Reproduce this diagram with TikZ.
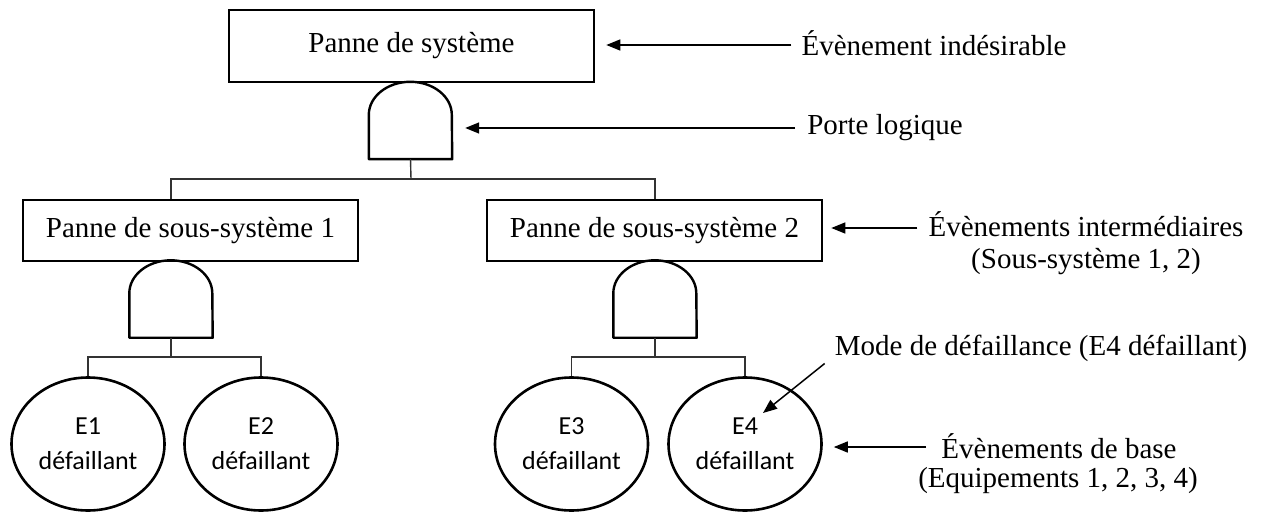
\documentclass[tikz,border=0pt]{standalone}
\usepackage{fontspec}
\setmainfont{Liberation Serif}
\newfontfamily\evsans{Carlito}
\usetikzlibrary{arrows.meta,shapes.geometric}

\begin{document}
\begin{tikzpicture}[x=1pt,y=-1pt,
  eventbox/.style={draw, line width=2.6pt, inner sep=0pt,
    font=\fontsize{29}{34}\selectfont},
  gatebox/.style={inner sep=0pt, minimum width=83pt, minimum height=77pt},
  gateline/.style={line width=2.4pt, line join=round},
  basic/.style={draw, ellipse, line width=2.6pt, minimum width=153pt,
    minimum height=133pt, inner sep=0pt, align=center,
    font=\evsans\fontsize{26}{35}\selectfont},
  tree/.style={line width=1.4pt, draw=black!80},
  note/.style={inner sep=0pt, font=\fontsize{29}{34}\selectfont},
  arr/.style={line width=1.5pt, -{Triangle[length=14pt,width=11pt]}}]

\useasboundingbox (0,0) rectangle (1263,513);

% events
\node[eventbox, minimum width=365pt, minimum height=72pt] (top) at (411.5,46) {Panne de système};
\node[eventbox, minimum width=335pt, minimum height=61pt] (s1) at (190.5,230.5) {Panne de sous-système 1};
\node[eventbox, minimum width=335pt, minimum height=61pt] (s2) at (654.5,230.5) {Panne de sous-système 2};

% AND gates
\node[gatebox] (g0) at (410.5,120.5) {};
\node[gatebox] (g1) at (171,299) {};
\node[gatebox] (g2) at (655,299) {};
\foreach \g in {g0,g1,g2}
  \draw[gateline] (\g.south west) -- ([yshift=-33pt]\g.north west)
    arc[start angle=180, end angle=0, x radius=41.5pt, y radius=33pt]
    -- (\g.south east) -- cycle;

% basic events
\node[basic] (e1) at (88,444) {E1\\défaillant};
\node[basic] (e2) at (261,444) {E2\\défaillant};
\node[basic] (e3) at (571.5,444) {E3\\défaillant};
\node[basic] (e4) at (745,444) {E4\\défaillant};

% tree connections
\coordinate (j0) at (411,179);
\coordinate (j1) at (171,357);
\coordinate (j2) at (655,357);
\draw[tree] (g0.south) -- (j0);
\draw[tree] (s1.north -| g1.north) |- (j0) -| (s2.north -| g2.north);
\draw[tree] (g1.south) -- (j1);
\draw[tree] (e1.north) |- (j1) -| (e2.north);
\draw[tree] (g2.south) -- (j2);
\draw[tree] (e3.north) |- (j2) -| (e4.north);

% annotations
\node[note] (l1) at (934,43) {Évènement indésirable};
\node[note] (l2) at (885,128) {Porte logique};
\node[note] (l3) at (1086,224) {Évènements intermédiaires};
\node[note] (l3b) at (1086,262) {(Sous-système 1, 2)};
\node[note] (l4) at (1041,348) {Mode de défaillance (E4 défaillant)};
\node[note] (l5) at (1059,446) {Évènements de base};
\node[note] (l5b) at (1058,481) {(Equipements 1, 2, 3, 4)};

\coordinate (m4) at ([shift={(18,-31)}]e4.center);

\draw[arr, shorten <=10pt, shorten >=11pt] ([yshift=-2pt]l1.west) -- ([yshift=-2pt]l1.west -| top.east);
\draw[arr, shorten <=12pt, shorten >=13pt] (l2.west) -- (l2.west -| g0.east);
\draw[arr, shorten <=11pt, shorten >=8pt] ([yshift=-4pt]l3.west) -- ([yshift=-4pt]l3.west -| s2.east);
\draw[arr] ([shift={(-10,2)}]l4.south west) -- (m4);
\draw[arr, shorten <=15pt, shorten >=11pt] ([yshift=-1pt]l5.west) -- ([yshift=-1pt]l5.west -| e4.east);

\end{tikzpicture}
\end{document}
